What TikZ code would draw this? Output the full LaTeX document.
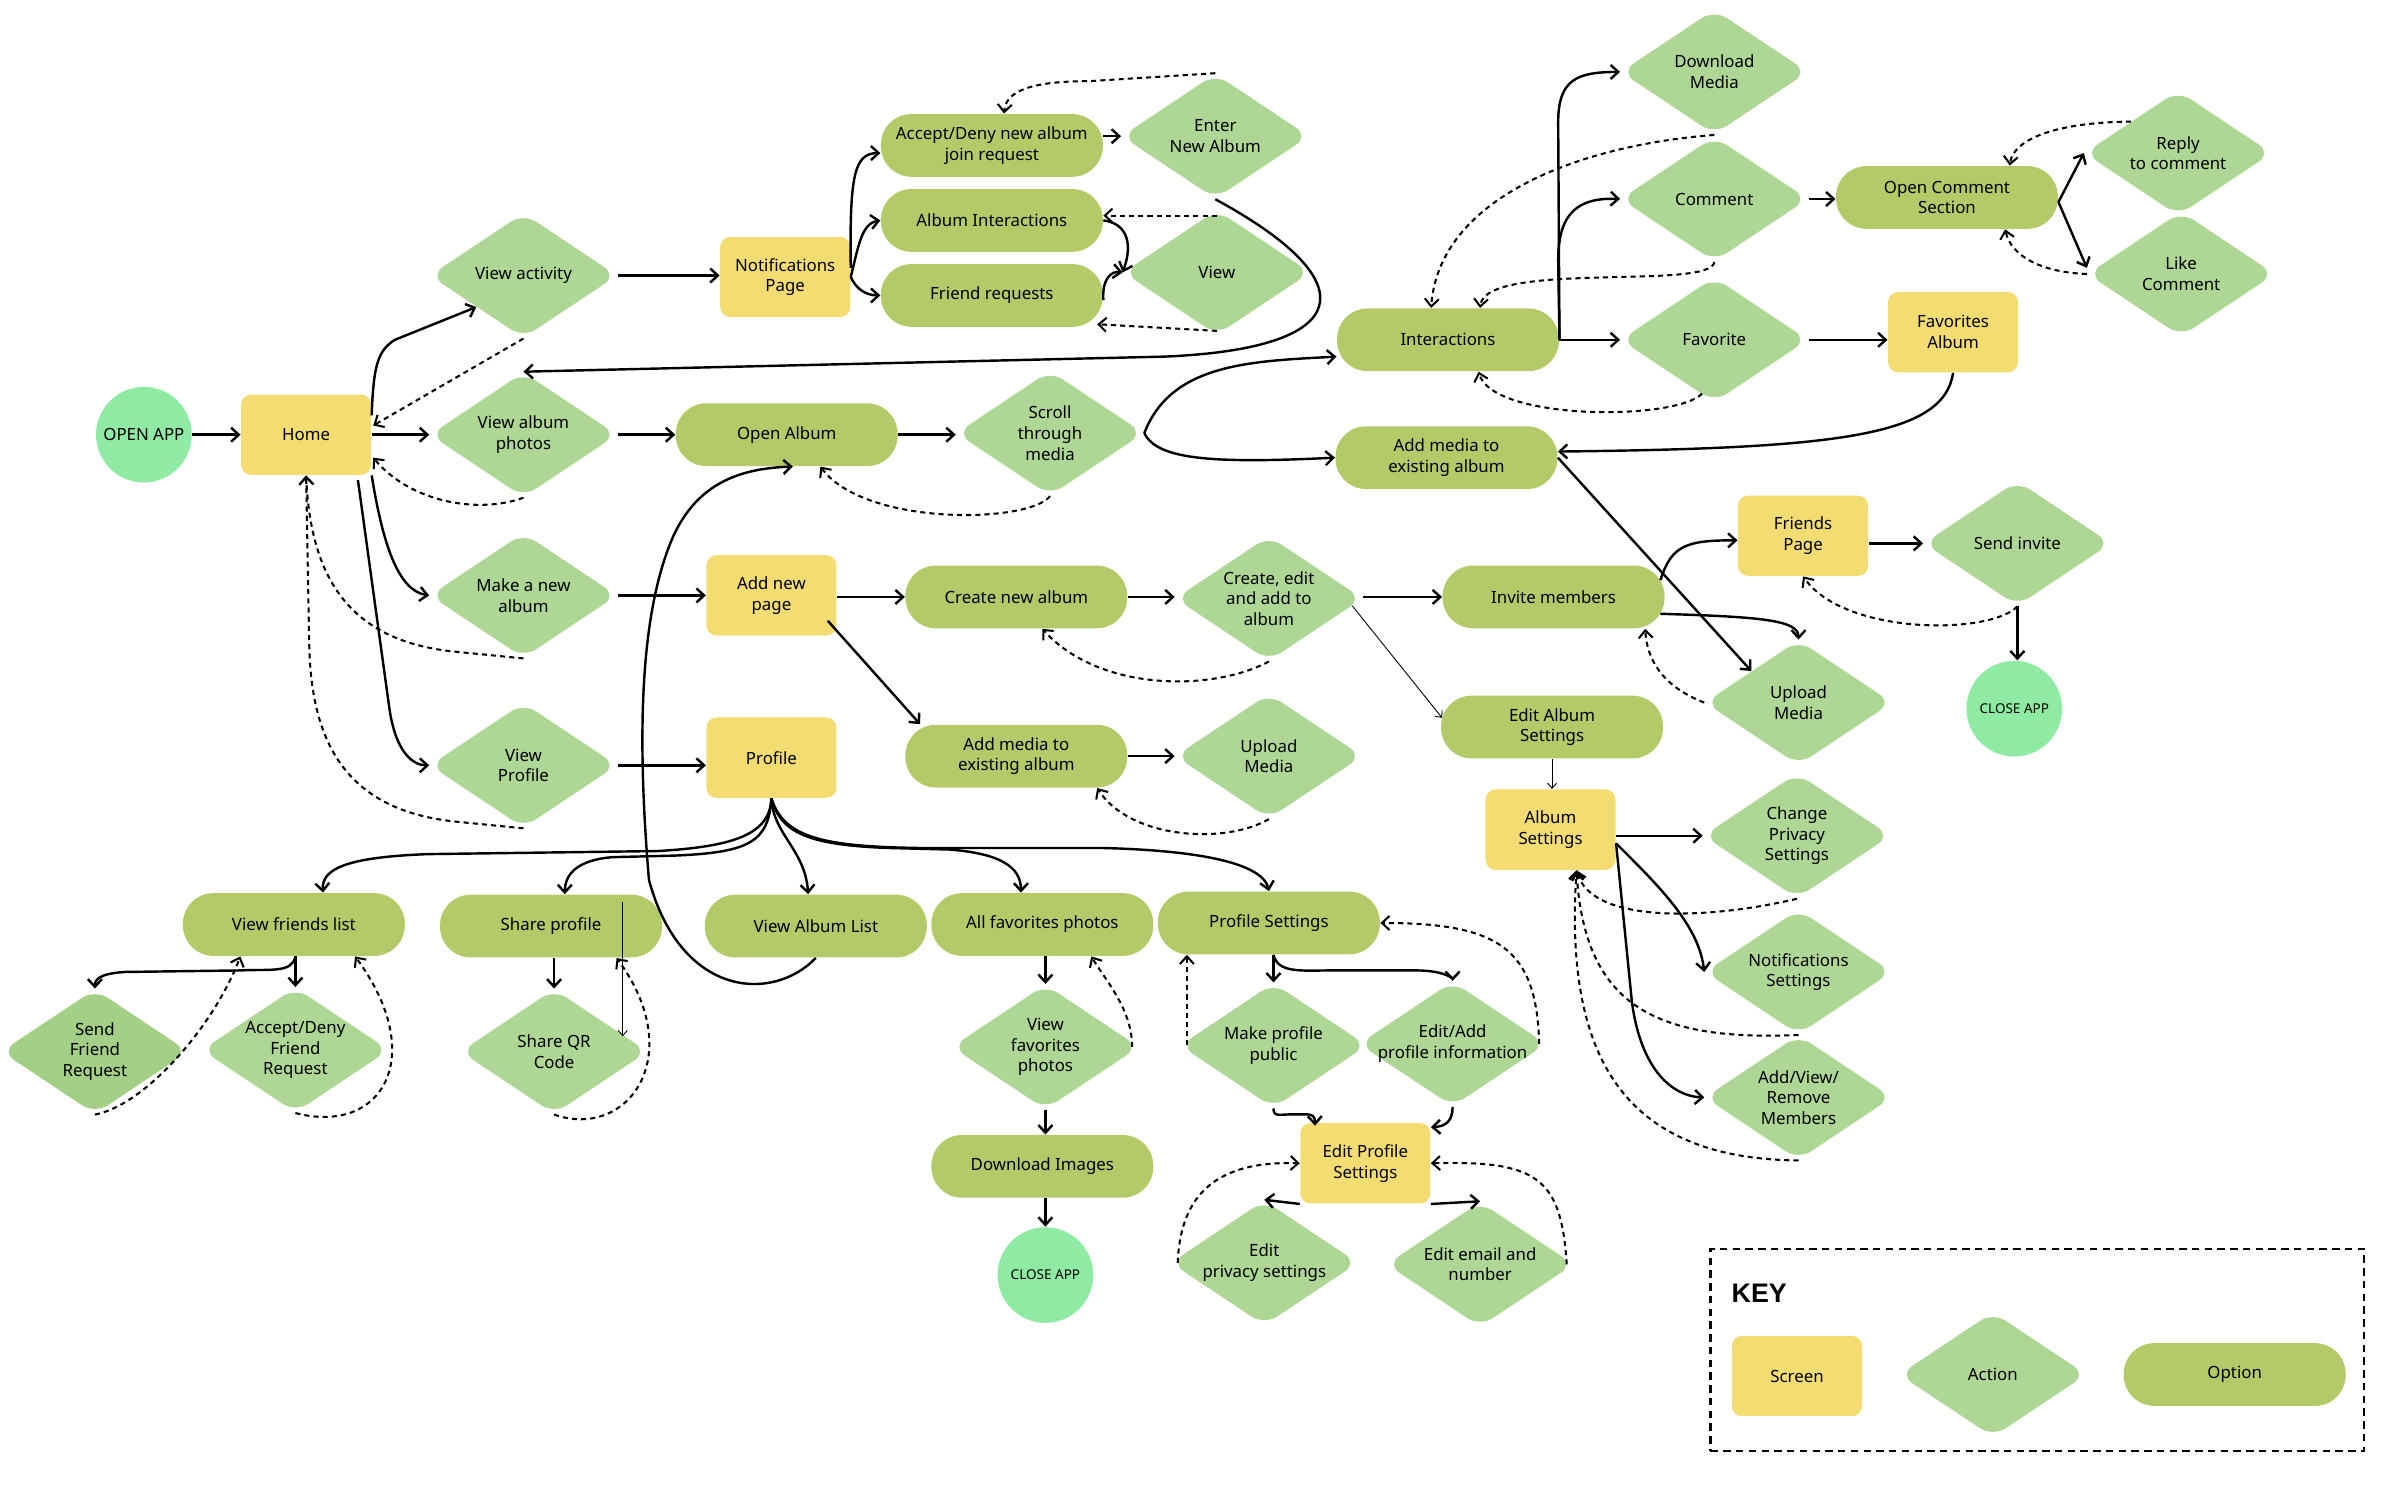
\documentclass[tikz,border=0pt]{standalone}
\usepackage{fontspec}
\setmainfont{Noto Sans}
\newfontfamily\keyfont{Liberation Sans}
\usepackage{xcolor}
\usepackage{tikz}
\usetikzlibrary{positioning, arrows.meta, shapes.geometric, calc}
\definecolor{screenyellow}{HTML}{F3DD72}
\definecolor{actiongreen}{HTML}{AED695}
\definecolor{actiondark}{HTML}{A3CF86}
\definecolor{optiongreen}{HTML}{B4CA69}
\definecolor{appgreen}{HTML}{8FEBA3}

\tikzset{
    every node/.style={font=\fontsize{6.6}{8.1}\selectfont, align=center, inner sep=0pt},
    screen/.style={fill=screenyellow, rounded corners=4pt, minimum width=51pt, minimum height=31.5pt},
    action/.style={diamond, fill=actiongreen, rounded corners=6pt, aspect=1.5, inner xsep=-10pt, minimum width=73.5pt, minimum height=49pt},
    option/.style={fill=optiongreen, rounded corners=12pt, minimum width=87pt, minimum height=24.6pt},
    terminal/.style={circle, fill=appgreen, minimum size=37.5pt},
    endapp/.style={terminal, font=\fontsize{5.3}{6.4}\selectfont},
    flow/.style={-{Straight Barb[length=3pt, width=5.5pt]}, line width=0.95pt},
    back/.style={flow, line width=0.8pt, dash pattern=on 2pt off 1.6pt},
    thinflow/.style={-{Straight Barb[length=2pt, width=3.6pt]}, line width=0.35pt},
    keyframe/.style={draw, line width=1.05pt, dash pattern=on 2.9pt off 2.1pt, minimum width=256.2pt, minimum height=79.2pt}
}

\begin{document}
\begin{tikzpicture}[x=0.6pt, y=-0.6pt]
    \useasboundingbox (0,0) rectangle (1568,972);

    \node[terminal] (openapp) at (94,284) {OPEN APP};
    \node[screen] (home) at (200,284) {Home};
    \node[action] (viewact) at (342,180) {View activity};
    \node[action] (viewalb) at (342,284) {View album\\photos};
    \node[action] (makealb) at (342,389) {Make a new\\album};
    \node[action] (viewprof) at (342,500) {View\\Profile};
    \node[screen] (notif) at (513,181) {Notifications\\Page};
    \node[option] (acceptalb) at (648,95) {Accept/Deny new album\\join request};
    \node[option] (albint) at (648,144) {Album Interactions};
    \node[option] (friendreq) at (648,193) {Friend requests};
    \node[action] (enteralb) at (794,89) {Enter\\New Album};
    \node[action] (view) at (795,178) {View};
    \node[option] (openalb) at (514,284) {Open Album};
    \node[action] (scroll) at (686,283) {Scroll\\through\\media};
    \node[option] (interact) at (946,222) {Interactions};
    \node[option] (addmediaT) at (945,299) {Add media to\\existing album};
    \node[action] (download) at (1120,47) {Download\\Media};
    \node[action] (comment) at (1120,130) {Comment};
    \node[action] (favorite) at (1120,222) {Favorite};
    \node[option] (comsec) at (1272,129) {Open Comment\\Section};
    \node[action] (reply) at (1423,100) {Reply\\to comment};
    \node[action] (like) at (1425,179) {Like\\Comment};
    \node[screen] (favalbum) at (1276,217) {Favorites\\Album};
    \node[screen] (addpage) at (504,389) {Add new\\page};
    \node[screen] (profile) at (504,495) {Profile};
    \node[option] (createalb) at (664,390) {Create new album};
    \node[action] (createedit) at (829,391) {Create, edit\\and add to\\album};
    \node[option] (invite) at (1015,390) {Invite members};
    \node[screen] (friendspg) at (1178,350) {Friends\\Page};
    \node[action] (sendinv) at (1318,355) {Send invite};
    \node[endapp] (closeA) at (1316,463) {CLOSE APP};
    \node[action] (uploadB) at (1175,459) {Upload\\Media};
    \node[option] (editalbset) at (1014,475) {Edit Album\\Settings};
    \node[screen] (albumset) at (1013,542) {Album\\Settings};
    \node[action] (privacy) at (1174,546) {Change\\Privacy\\Settings};
    \node[action] (notifset) at (1175,635) {Notifications\\Settings};
    \node[action] (members) at (1175,717) {Add/View/\\Remove\\Members};
    \node[option] (addmediaM) at (664,494) {Add media to\\existing album};
    \node[action] (uploadA) at (829,494) {Upload\\Media};
    \node[option] (friendlist) at (192,604) {View friends list};
    \node[option] (shareprof) at (360,605) {Share profile};
    \node[option] (albumlist) at (533,605) {View Album List};
    \node[option] (allfav) at (681,604) {All favorites photos};
    \node[option] (profset) at (829,603) {Profile Settings};
    \node[action, fill=actiondark] (sendfr) at (62,687) {Send\\Friend\\Request};
    \node[action] (acceptfr) at (193,686) {Accept/Deny\\Friend\\Request};
    \node[action] (qrcode) at (362,687) {Share QR\\Code};
    \node[action] (viewfav) at (683,684) {View\\favorites\\photos};
    \node[option] (dlimages) at (681,762) {Download Images};
    \node[endapp] (closeB) at (683,833) {CLOSE APP};
    \node[action] (makepub) at (832,683) {Make profile\\public};
    \node[action] (editinfo) at (949,682) {Edit/Add\\profile information};
    \node[screen] (editprof) at (892,760) {Edit Profile\\Settings};
    \node[action] (editpriv) at (826,825) {Edit\\privacy settings};
    \node[action] (editemail) at (967,826) {Edit email and\\number};

    \node[keyframe] (keybox) at (1331,882) {};
    \node[font=\keyfont\fontsize{10.5}{12}\selectfont\bfseries, anchor=west] (keytitle) at (1131,845) {KEY};
    \node[screen] (keyscreen) at (1174,899) {Screen};
    \node[action] (keyaction) at (1302,898) {Action};
    \node[option] (keyoption) at (1460,898) {Option};

    \coordinate (qrtop) at ($(shareprof.north east)+(-26,5)$);

    \draw[flow] (openapp) -- (home);
    \draw[flow] ($(home.north east)+(0,14)$) .. controls (244,238) and (247,229) .. (258,222) -- (viewact.south west);
    \draw[back] (viewact.south) -- ($(home.east)+(1,-6)$);
    \draw[flow] (home.east) -- (home.east -| viewalb.west);
    \draw[back] (viewalb.south) .. controls (312,336) and (268,328) .. ($(home.east)+(1,15)$);
    \draw[flow] (viewact.east) -- (viewact.east -| notif.west);
    \draw[flow] (viewalb.east) -- (viewalb.east -| openalb.west);
    \draw[flow] (openalb.east) -- (openalb.east -| scroll.west);
    \draw[back] (scroll.south) .. controls (672,342) and (565,344) .. ($(openalb.south)+(22,0)$);
    \draw[flow] (scroll.east) .. controls (765,238) and (815,236) .. ($(interact.west)+(0,11)$);
    \draw[flow] (scroll.east) .. controls (756,300) and (790,303) .. (addmediaT.west);
    \draw[flow] (enteralb.south) .. controls (895,185) and (885,228) .. (760,233) -- (viewalb.north);

    \draw[flow] ($(notif.east)+(0,-6)$) .. controls (555,115) and (558,100) .. ($(acceptalb.west)+(0,5)$);
    \draw[flow] (notif.east) .. controls (561,160) and (563,146) .. (albint.west);
    \draw[flow] (notif.east) .. controls (559,188) and (565,193) .. (friendreq.west);
    \draw[flow] ($(acceptalb.east)+(0,-6)$) -- (enteralb.west);
    \draw[back] (enteralb.north) -- (712,53) .. controls (672,53) and (657,60) .. ($(acceptalb.north)+(8,0)$);
    \draw[flow] (albint.east) .. controls (737,146) and (740,160) .. (view.west);
    \draw[flow] ($(friendreq.east)+(0,3)$) .. controls (720,182) and (726,177) .. (view.west);
    \draw[back] ($(view.north)+(0,4)$) -- ($(view.north -| albint.east)+(0,4)$);
    \draw[back] ($(view.south)+(0,-3)$) -- ($(friendreq.south east)+(-4,-2)$);

    \draw[flow] (home.south east) .. controls (250,355) and (260,386) .. (makealb.west);
    \draw[flow] ($(home.south east)+(-9,3)$) -- (254,460) .. controls (258,492) and (270,500) .. (viewprof.west);
    \draw[back] (makealb.south) -- (300,426) .. controls (230,420) and (203,380) .. (home.south);
    \draw[back] (viewprof.south) -- (300,537) .. controls (222,530) and (203,480) .. (202,420) -- (home.south);
    \draw[flow] (makealb.east) -- (makealb.east -| addpage.west);
    \draw[flow] (viewprof.east) -- (viewprof.east -| profile.west);

    \draw[flow] (addpage.east |- createalb.west) -- (createalb.west);
    \draw[flow] ($(addpage.south east)+(-6,-10)$) -- ($(addmediaM.north west)+(10,0)$);
    \draw[flow] (createalb.east) -- (createalb.east -| createedit.west);
    \draw[back] (createedit.south) .. controls (792,452) and (718,452) .. ($(createalb.south)+(17,0)$);
    \draw[flow] (createedit.east |- invite.west) -- (invite.west);
    \draw[thinflow] (createedit.-5) -- ($(editalbset.west)+(1,-6)$);
    \draw[flow] (addmediaM.east) -- (addmediaM.east -| uploadA.west);
    \draw[back] (uploadA.south) .. controls (800,552) and (738,548) .. ($(addmediaM.south east)+(-20,0)$);
    \draw[thinflow] (editalbset.south) -- (editalbset.south |- albumset.north);

    \draw[flow] ($(invite.east)+(-3,-11)$) .. controls (1092,356) and (1102,353) .. ($(friendspg.west)+(0,3)$);
    \draw[flow] ($(invite.east)+(-3,11)$) .. controls (1150,403) and (1175,405) .. (uploadB.north);
    \draw[back] (uploadB.west) .. controls (1085,448) and (1076,430) .. ($(invite.south east)+(-13,0)$);
    \draw[flow] (addmediaT.east) -- (uploadB.north west);
    \draw[flow] (sendinv.west -| friendspg.east) -- (sendinv.west);
    \draw[back] (sendinv.south) .. controls (1300,415) and (1205,415) .. (friendspg.south);
    \draw[flow] (sendinv.south) -- (sendinv.south |- closeA.north);
    \draw[flow] (favalbum.south) .. controls (1270,285) and (1200,293) .. ($(addmediaT.east)+(0,-4)$);

    \draw[flow] (interact.east) -- (1018,80) .. controls (1018,52) and (1030,47) .. (download.west);
    \draw[flow] (interact.east) -- (1018,170) .. controls (1018,138) and (1032,129) .. (comment.west);
    \draw[flow] (interact.east) -- (interact.east -| favorite.west);
    \draw[back] (download.south) .. controls (1030,95) and (940,130) .. ($(interact.north)+(-11,0)$);
    \draw[back] (comment.south) .. controls (1118,190) and (970,170) .. ($(interact.north)+(21,0)$);
    \draw[back] ($(favorite.south)+(-8,-6)$) .. controls (1095,275) and (975,275) .. ($(interact.south)+(20,0)$);
    \draw[flow] (favorite.east) -- (favorite.east -| favalbum.west);
    \draw[flow] (comment.east) -- (comment.east -| comsec.west);
    \draw[flow] ($(comsec.east)+(0,3)$) -- (reply.west);
    \draw[flow] ($(comsec.east)+(0,3)$) -- ($(like.west)+(0,-4)$);
    \draw[back] (reply.north west) .. controls (1340,80) and (1315,92) .. ($(comsec.north)+(41,0)$);
    \draw[back] (like.west) .. controls (1335,178) and (1314,168) .. ($(comsec.south)+(38,0)$);

    \draw[flow] (albumlist.south) .. controls (505,655) and (445,652) .. (424,575) .. controls (416,480) and (418,400) .. (440,350) .. controls (455,318) and (480,306) .. ($(openalb.south)+(4,0)$);
    \draw[flow] (profile.south) .. controls (503,545) and (480,553) .. (430,556) -- (280,558) .. controls (225,560) and (210,568) .. ($(friendlist.north)+(19,0)$);
    \draw[flow] (profile.south) .. controls (502,550) and (490,557) .. (440,559) -- (400,560) .. controls (376,562) and (369,572) .. ($(shareprof.north)+(9,0)$);
    \draw[flow] (profile.south) .. controls (505,545) and (526,555) .. ($(albumlist.north)+(-5,0)$);
    \draw[flow] (profile.south) .. controls (510,545) and (530,552) .. (580,554) -- (620,555) .. controls (660,558) and (667,570) .. ($(allfav.north)+(-14,0)$);
    \draw[flow] (profile.south) .. controls (512,548) and (540,553) .. (600,554) -- (720,554) .. controls (800,556) and (826,568) .. (profset.north);

    \draw[flow] ($(friendlist.south)+(1,0)$) .. controls (191,636) and (176,633) .. (157,634) -- (82,635) .. controls (63,636) and (62,641) .. (sendfr.north);
    \draw[flow] (acceptfr.north |- friendlist.south) -- (acceptfr.north);
    \draw[back] (sendfr.south) .. controls (95,722) and (140,670) .. ($(friendlist.south)+(-35,0)$);
    \draw[back] (acceptfr.south) .. controls (250,742) and (280,690) .. ($(friendlist.south)+(40,0)$);
    \draw[flow] (qrcode.north |- shareprof.south) -- (qrcode.north);
    \draw[thinflow] (qrtop) -- ($(qrtop |- qrcode.east)+(0,-10)$);
    \draw[back] (qrcode.south) .. controls (410,745) and (450,690) .. ($(shareprof.south east)+(-30,0)$);

    \draw[flow] (viewfav.north |- allfav.south) -- (viewfav.north);
    \draw[back] ($(viewfav.east)+(-5,0)$) .. controls (740,660) and (722,640) .. ($(allfav.south)+(32,0)$);
    \draw[flow] (viewfav.south) -- (viewfav.south |- dlimages.north);
    \draw[flow] (closeB.north |- dlimages.south) -- (closeB.north);
    \draw[flow] (makepub.north |- profset.south) -- (makepub.north);
    \draw[flow] (makepub.north |- profset.south) .. controls (835,636) and (850,634) .. (870,634) -- (925,634) .. controls (945,634) and (949,640) .. (editinfo.north);
    \draw[back] ($(makepub.west)+(5,0)$) -- ($(makepub.west |- profset.south)+(5,0)$);
    \draw[back] ($(editinfo.east)+(-5,0)$) .. controls (1004,620) and (980,603) .. (profset.east);
    \draw[flow] (makepub.south) .. controls (832,730) and (836,728) .. (845,728) -- (852,728) .. controls (858,728) and (859,729) .. ($(editprof.north west)+(10,2)$);
    \draw[flow] (editinfo.south) .. controls (949,732) and (945,736) .. ($(editprof.north east)+(0,3)$);
    \draw[flow] (editprof.south west) -- (editpriv.north);
    \draw[flow] (editprof.south east) -- (editemail.north);
    \draw[back] ($(editpriv.west)+(5,0)$) .. controls (771,785) and (790,758) .. (editprof.west);
    \draw[back] ($(editemail.east)+(-5,0)$) .. controls (1020,770) and (1005,758) .. (editprof.east);

    \draw[flow] (albumset.east |- privacy.west) -- (privacy.west);
    \draw[flow] ($(albumset.east)+(0,9)$) .. controls (1085,580) and (1110,605) .. (notifset.west);
    \draw[flow] ($(albumset.east)+(0,9)$) -- (1066,653) .. controls (1071,695) and (1090,716) .. (members.west);
    \draw[back] (privacy.south) .. controls (1120,600) and (1040,605) .. ($(albumset.south)+(17,0)$);
    \draw[back] (notifset.south) .. controls (1085,680) and (1035,660) .. ($(albumset.south)+(17,0)$);
    \draw[back] (members.south) .. controls (1060,757) and (1022,690) .. ($(albumset.south)+(17,0)$);
\end{tikzpicture}
\end{document}
